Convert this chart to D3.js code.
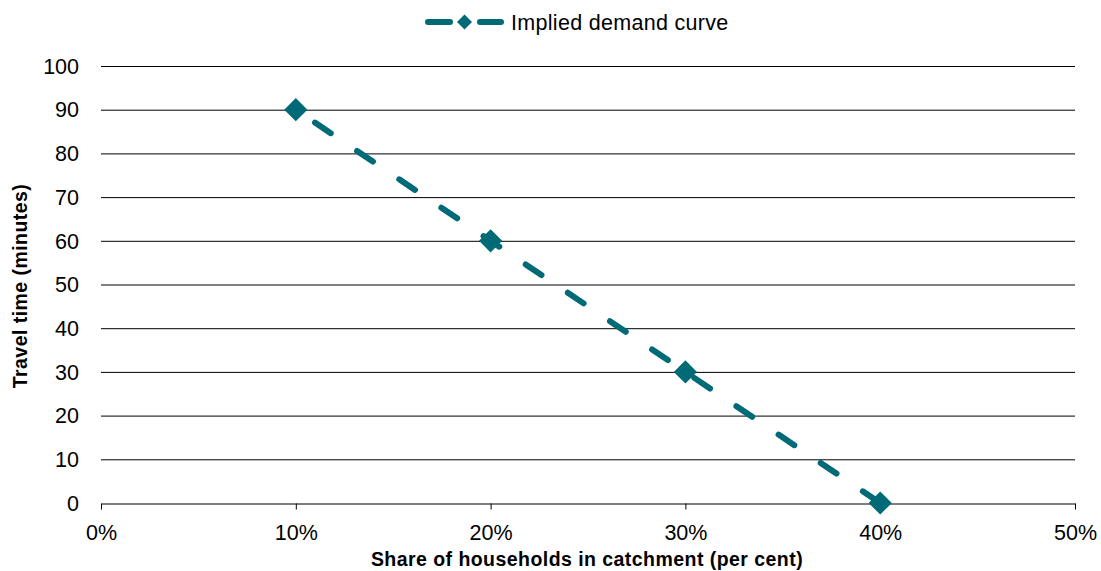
<!DOCTYPE html>
<html><head><meta charset="utf-8">
<script src="https://cdn.jsdelivr.net/npm/d3@7"></script>
<style>body{margin:0;background:#fff;font-family:"Liberation Sans",Arial,sans-serif;}</style>
</head><body>
<svg id="c" width="1101" height="571"></svg>
<script>
const seriesName = "Implied demand curve";
const shares = [0.10, 0.20, 0.30, 0.40];
const travelTimes = [90, 60, 30, 0];
const xTicks = [0, 0.1, 0.2, 0.3, 0.4, 0.5];
const yTicks = [0, 10, 20, 30, 40, 50, 60, 70, 80, 90, 100];
const xTitle = "Share of households in catchment (per cent)";
const yTitle = "Travel time (minutes)";
const color = "#006B77";

const svg = d3.select("#c");
const m = {l:101, r:1075, t:66, b:503};
const x = d3.scaleLinear().domain([0,0.5]).range([m.l, m.r]);
const y = d3.scaleLinear().domain([0,100]).range([m.b, m.t]);

// gridlines
svg.append("g").selectAll("line").data(yTicks.filter(d=>d>0)).join("line")
  .attr("x1", m.l).attr("x2", m.r).attr("y1", d=>y(d)+0.5).attr("y2", d=>y(d)+0.5)
  .attr("stroke", "#000").attr("stroke-width", 1);

// y labels
svg.append("g").selectAll("text").data(yTicks).join("text")
  .attr("x", 79).attr("y", d=>y(d)).attr("dy", "0.36em").attr("text-anchor","end")
  .attr("font-size", 21.5).attr("fill","#000").text(d=>d);

// x axis
const xAxis = d3.axisBottom(x).tickValues(xTicks).tickFormat(d3.format(".0%")).tickSize(6).tickSizeOuter(0);
const gx = svg.append("g").attr("transform", `translate(0,${m.b+0.5})`).call(xAxis);
gx.select(".domain").attr("stroke","#000");
gx.selectAll(".tick line").attr("stroke","#000");
gx.selectAll(".tick text").attr("font-size",21.5).attr("font-family","Liberation Sans, Arial, sans-serif")
  .attr("fill","#000").attr("y", 36.5).attr("dy", 0);

// titles
svg.append("text").attr("x", 587).attr("y", 566).attr("text-anchor","middle")
  .attr("font-size",19.5).attr("font-weight","bold").attr("letter-spacing", 0.45).text(xTitle);
svg.append("text").attr("transform","translate(27,286) rotate(-90)").attr("text-anchor","middle")
  .attr("font-size",19.5).attr("font-weight","bold").attr("letter-spacing", 0.45).text(yTitle);

// line
const pts = shares.map((s,i)=>[s, travelTimes[i]]);
svg.append("path").datum(pts)
  .attr("d", d3.line().x(d=>x(d[0])).y(d=>y(d[1])))
  .attr("fill","none").attr("stroke", color).attr("stroke-width", 6)
  .attr("stroke-linecap","round").attr("stroke-dasharray","19,31.8").attr("stroke-dashoffset", 27.7);

svg.append("g").selectAll("rect").data(pts).join("rect")
  .attr("x",-8.2).attr("y",-8.2).attr("width",16.4).attr("height",16.4)
  .attr("fill", color)
  .attr("transform", d=>`translate(${x(d[0])},${y(d[1])}) rotate(45)`);

// legend
const lg = svg.append("g");
lg.append("line").attr("x1",428).attr("x2",450).attr("y1",22).attr("y2",22)
  .attr("stroke",color).attr("stroke-width",6).attr("stroke-linecap","round");
lg.append("line").attr("x1",480).attr("x2",501).attr("y1",22).attr("y2",22)
  .attr("stroke",color).attr("stroke-width",6).attr("stroke-linecap","round");
lg.append("rect").attr("x",-5.3).attr("y",-5.3).attr("width",10.6).attr("height",10.6)
  .attr("fill",color).attr("transform","translate(464.5,22) rotate(45)");
lg.append("text").attr("x",511).attr("y",22).attr("dy","0.36em").attr("font-size",21.5)
  .attr("letter-spacing", 0.3).text(seriesName);
</script>
</body></html>
